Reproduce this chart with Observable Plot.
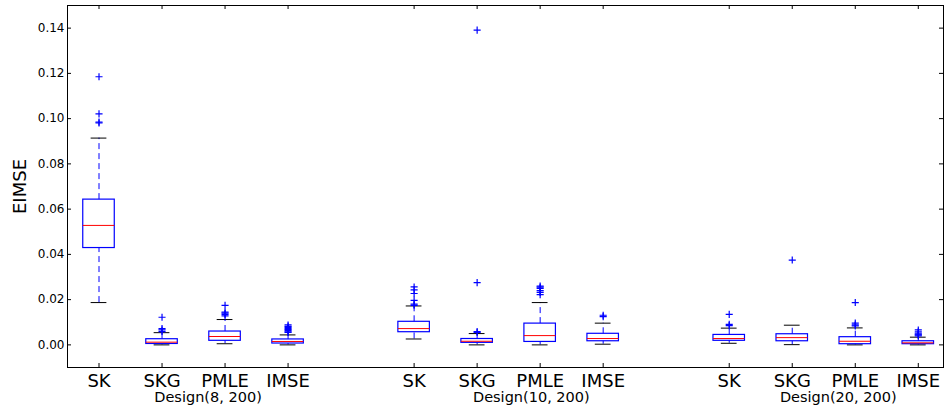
<!DOCTYPE html>
<html>
<head>
<meta charset="utf-8">
<script src="https://cdn.jsdelivr.net/npm/d3@7"></script>
<script src="https://cdn.jsdelivr.net/npm/@observablehq/plot@0.6"></script>
<style>
  html, body { margin: 0; padding: 0; background: #fff; }
  #chart svg { display: block; font-family: "DejaVu Sans", sans-serif; }
</style>
</head>
<body>
<div id="chart"></div>
<script>
// Method names and their slot on the x axis (gaps between the three designs)
const methods   = ["SK", "SKG", "PMLE", "IMSE", "SK", "SKG", "PMLE", "IMSE", "SK", "SKG", "PMLE", "IMSE"];
const positions = [1, 2, 3, 4, 6, 7, 8, 9, 11, 12, 13, 14];

// Box statistics of the EIMSE per method
const whiskerLo = [0.0187, 0.0000, 0.0005, 0.0000,  0.0026, 0.0000, 0.0000, 0.0003,  0.0007, 0.0001, 0.0000, 0.0000];
const q1        = [0.0428, 0.0004, 0.0018, 0.0006,  0.0056, 0.0009, 0.0013, 0.0016,  0.0018, 0.0016, 0.0003, 0.0003];
const medians   = [0.0528, 0.0012, 0.0037, 0.0015,  0.0072, 0.0016, 0.0041, 0.0028,  0.0028, 0.0032, 0.0016, 0.0009];
const q3        = [0.0642, 0.0025, 0.0059, 0.0024,  0.0102, 0.0026, 0.0094, 0.0049,  0.0044, 0.0047, 0.0034, 0.0016];
const whiskerHi = [0.0914, 0.0054, 0.0112, 0.0044,  0.0172, 0.0050, 0.0187, 0.0096,  0.0074, 0.0087, 0.0075, 0.0034];

// Points beyond the whiskers, per method
const outliers = [
  [0.0981, 0.0985, 0.1021, 0.1185],
  [0.0059, 0.0066, 0.0072, 0.0122],
  [0.0128, 0.0135, 0.0140, 0.0145, 0.0175],
  [0.0055, 0.0058, 0.0063, 0.0068, 0.0072, 0.0077, 0.0082, 0.0088],
  [0.0175, 0.0180, 0.0197, 0.0227, 0.0243, 0.0256],
  [0.0055, 0.0059, 0.0275, 0.1391],
  [0.0222, 0.0232, 0.0240, 0.0250, 0.0255, 0.0260],
  [0.0125, 0.0131],
  [0.0085, 0.0091, 0.0135],
  [0.0375],
  [0.0084, 0.0088, 0.0096, 0.0187],
  [0.0040, 0.0044, 0.0047, 0.0052, 0.0058, 0.0066]
];

// Design group captions and where they sit along x
const designs   = ["Design(8, 200)", "Design(10, 200)", "Design(20, 200)"];
const designPos = [2.73, 7.86, 12.73];

const yTicks = [0, 0.02, 0.04, 0.06, 0.08, 0.10, 0.12, 0.14];

const boxes = positions.map((p, i) => ({
  p, name: methods[i], lo: whiskerLo[i], q1: q1[i], med: medians[i], q3: q3[i], hi: whiskerHi[i]
}));
const fliers = outliers.flatMap((vals, i) => vals.map(v => ({p: positions[i], v})));

const boxHalf = 0.25, capHalf = 0.125;

// Stroked "+" marker
const plusSymbol = {
  draw(ctx, size) {
    const r = Math.sqrt(size) / 2;
    ctx.moveTo(-r, 0); ctx.lineTo(r, 0);
    ctx.moveTo(0, -r); ctx.lineTo(0, r);
  }
};

const W = 945, H = 413;
const mL = 67, mR = 2, mT = 5, mB = 46;
const plotW = W - mL - mR, plotH = H - mT - mB;
const tickLen = 4;

const chart = Plot.plot({
  width: W,
  height: H,
  marginLeft: mL,
  marginRight: mR,
  marginTop: mT,
  marginBottom: mB,
  style: {fontFamily: "DejaVu Sans", background: "#fff"},
  x: {domain: [0.5, 14.4], axis: null},
  y: {domain: [-0.01, 0.15], axis: null},
  marks: [
    // y tick labels
    Plot.axisY({ticks: yTicks, tickFormat: d => d.toFixed(2), tickSize: 0, tickPadding: 3,
      fontSize: 12, fill: "#000", label: null}),
    // inward tick marks on all four sides
    Plot.tickY(yTicks, {y: d => d, insetRight: plotW - tickLen, stroke: "#000"}),
    Plot.tickY(yTicks, {y: d => d, insetLeft: plotW - tickLen, stroke: "#000"}),
    Plot.tickX(positions, {x: d => d, insetTop: plotH - tickLen, stroke: "#000"}),
    Plot.tickX(positions, {x: d => d, insetBottom: plotH - tickLen, stroke: "#000"}),

    // whiskers (dashed) and caps
    Plot.ruleX(boxes, {x: "p", y1: "q3", y2: "hi", stroke: "#0000ff", strokeDasharray: "6,4"}),
    Plot.ruleX(boxes, {x: "p", y1: "lo", y2: "q1", stroke: "#0000ff", strokeDasharray: "6,4"}),
    Plot.ruleY(boxes, {y: "hi", x1: d => d.p - capHalf, x2: d => d.p + capHalf, stroke: "#000"}),
    Plot.ruleY(boxes, {y: "lo", x1: d => d.p - capHalf, x2: d => d.p + capHalf, stroke: "#000"}),

    // boxes and medians
    Plot.rect(boxes, {x1: d => d.p - boxHalf, x2: d => d.p + boxHalf, y1: "q1", y2: "q3",
      fill: "none", stroke: "#0000ff", strokeWidth: 1.2}),
    Plot.ruleY(boxes, {y: "med", x1: d => d.p - boxHalf, x2: d => d.p + boxHalf, stroke: "#ff0000"}),

    // outliers
    Plot.dot(fliers, {x: "p", y: "v", symbol: plusSymbol, r: 4, stroke: "#0000ff", fill: "none", strokeWidth: 1.2}),

    Plot.frame({stroke: "#000"}),

    // method labels under each box
    Plot.text(boxes, {x: "p", y: -0.01, text: "name", dy: 19, frameAnchor: "bottom",
      fontSize: 18, fill: "#000", lineAnchor: "bottom"}),
    // design captions
    Plot.text(designs, {x: (d, i) => designPos[i], y: -0.01, text: d => d, dy: 34,
      fontSize: 14.5, fill: "#000", lineAnchor: "bottom"}),
    // y axis title
    Plot.text(["EIMSE"], {x: 0.5, y: 0.07, dx: -47, rotate: -90, text: d => d,
      fontSize: 18, fill: "#000"})
  ]
});

document.getElementById("chart").appendChild(chart);
</script>
</body>
</html>
